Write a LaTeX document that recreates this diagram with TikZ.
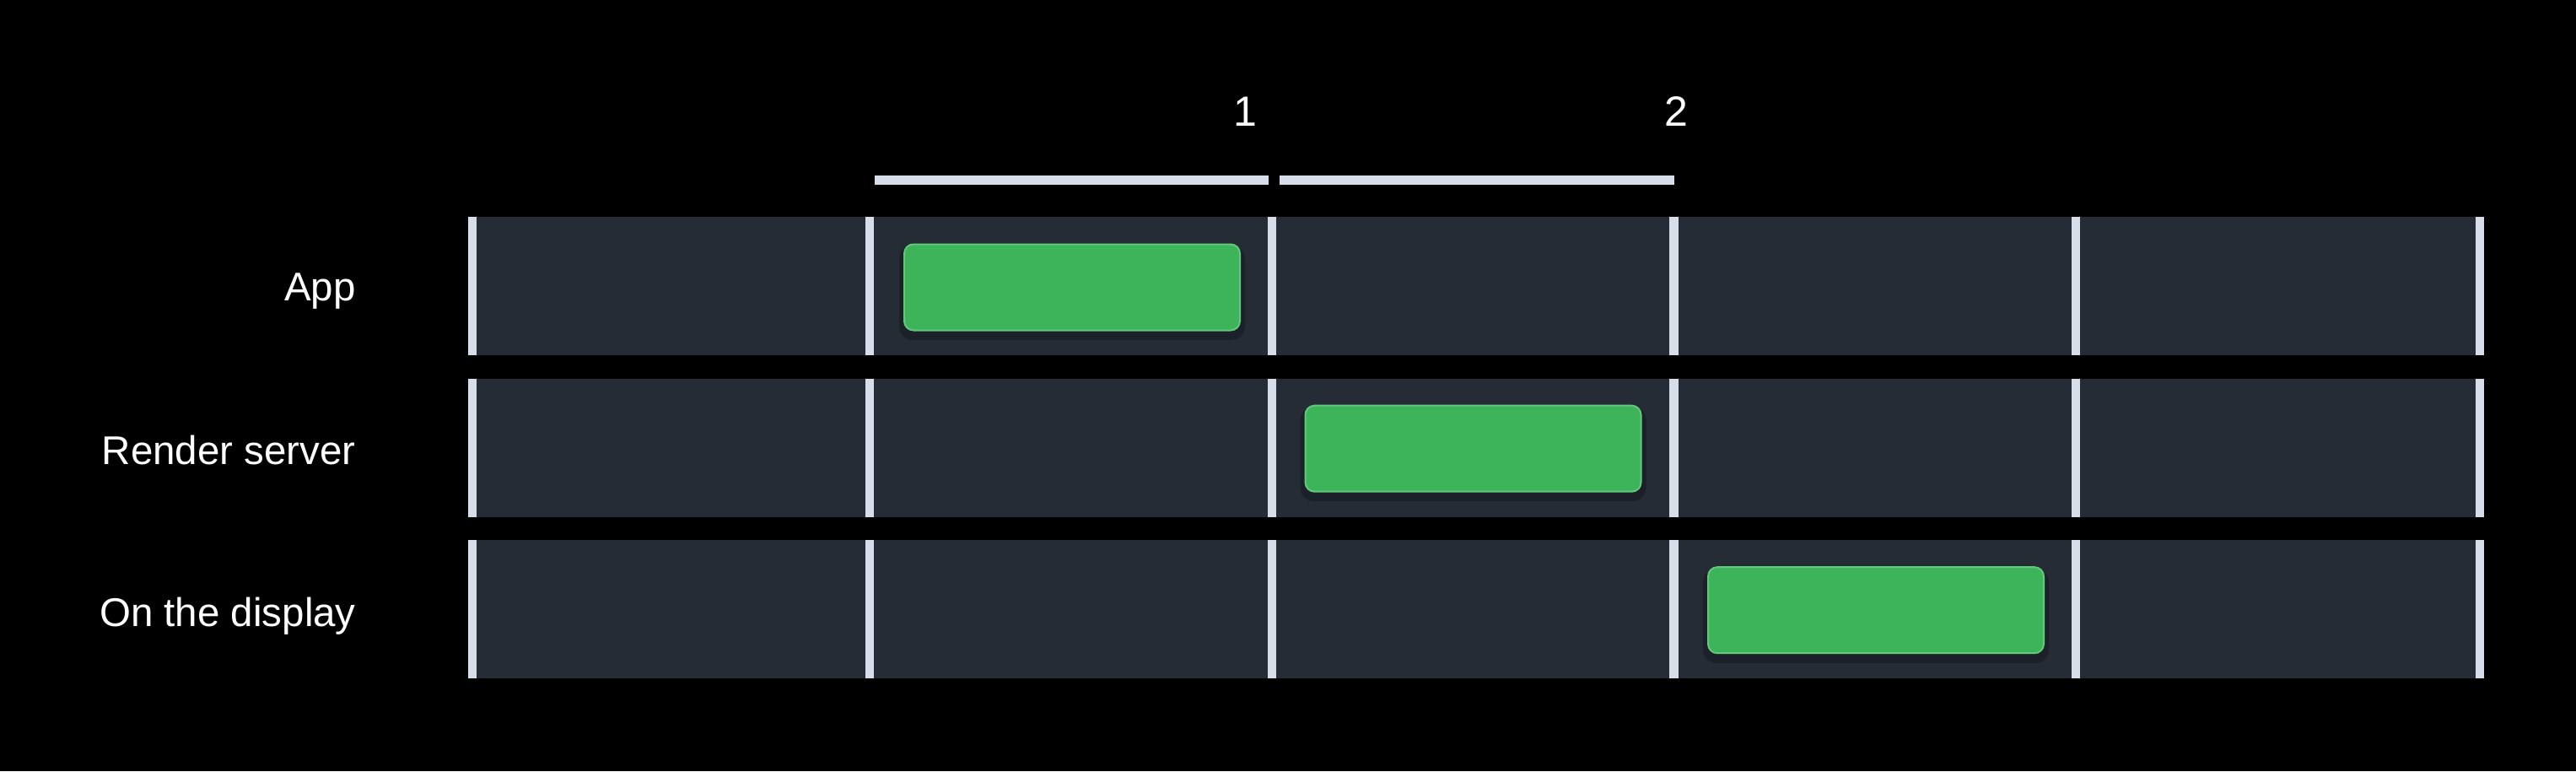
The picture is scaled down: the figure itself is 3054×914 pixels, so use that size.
\documentclass[tikz,border=0pt]{standalone}
\usepackage{fontspec}
\setmainfont{Liberation Sans}
\definecolor{bandc}{HTML}{262C36}
\definecolor{sepc}{HTML}{D7DEEA}
\definecolor{greenc}{HTML}{3DB35A}
\definecolor{greenb}{HTML}{62C97C}
\begin{document}
\begin{tikzpicture}[x=1pt,y=-1pt,
  band/.style={fill=bandc, draw=none, inner sep=0pt, minimum width=2390pt, minimum height=164pt},
  sepline/.style={draw=sepc, line width=10.5pt},
  barline/.style={fill=sepc, draw=none},
  task/.style={fill=greenc, draw=greenb, line width=2pt, rounded corners=11pt, inner sep=0pt, minimum width=398pt, minimum height=102pt},
  shade/.style={fill=black, draw=none, rounded corners=16pt, inner sep=0pt, minimum width=410pt, minimum height=112pt},
  rowlabel/.style={anchor=base east, text=white, inner sep=0pt, font=\fontsize{47.5}{57}\selectfont},
  numlabel/.style={anchor=base, text=white, inner sep=0pt, font=\fontsize{50}{60}\selectfont}]
\fill[black] (0,0) rectangle (3054,914);
\useasboundingbox (0,0) rectangle (3054,914);
% bands
\node[band] (b1) at (1750,339) {};
\node[band] (b2) at (1750,530.5) {};
\node[band] (b3) at (1750,722) {};
% shadows
\node[shade, opacity=0.25] (s1) at (1271,347) {};
\node[shade, opacity=0.25] (s2) at (1746.5,538) {};
\node[shade, opacity=0.25] (s3) at (2224,730) {};
% separators
\foreach \xx in {560,1031,1508,1984.5,2461,2940}{
  \foreach \yt/\yb in {257/421,448.5/613,640/804}{
    \draw[sepline] (\xx,\yt) -- (\xx,\yb);
  }
}
% green tasks
\node[task] (t1) at (1271,340.5) {};
\node[task] (t2) at (1746.5,531.7) {};
\node[task] (t3) at (2224,723.2) {};
% top bars
\fill[barline] (1037,208.3) rectangle (1504,219);
\fill[barline] (1517,208.3) rectangle (1984.5,219);
% numbers
\node[numlabel] (n1) at (1476,149.3) {1};
\node[numlabel] (n2) at (1987,149.3) {2};
% row labels
\node[rowlabel] (l1) at (422,356.7) {App};
\node[rowlabel] (l2) at (422,550.7) {Render server};
\node[rowlabel] (l3) at (422,742) {On the display};
\end{tikzpicture}
\end{document}
